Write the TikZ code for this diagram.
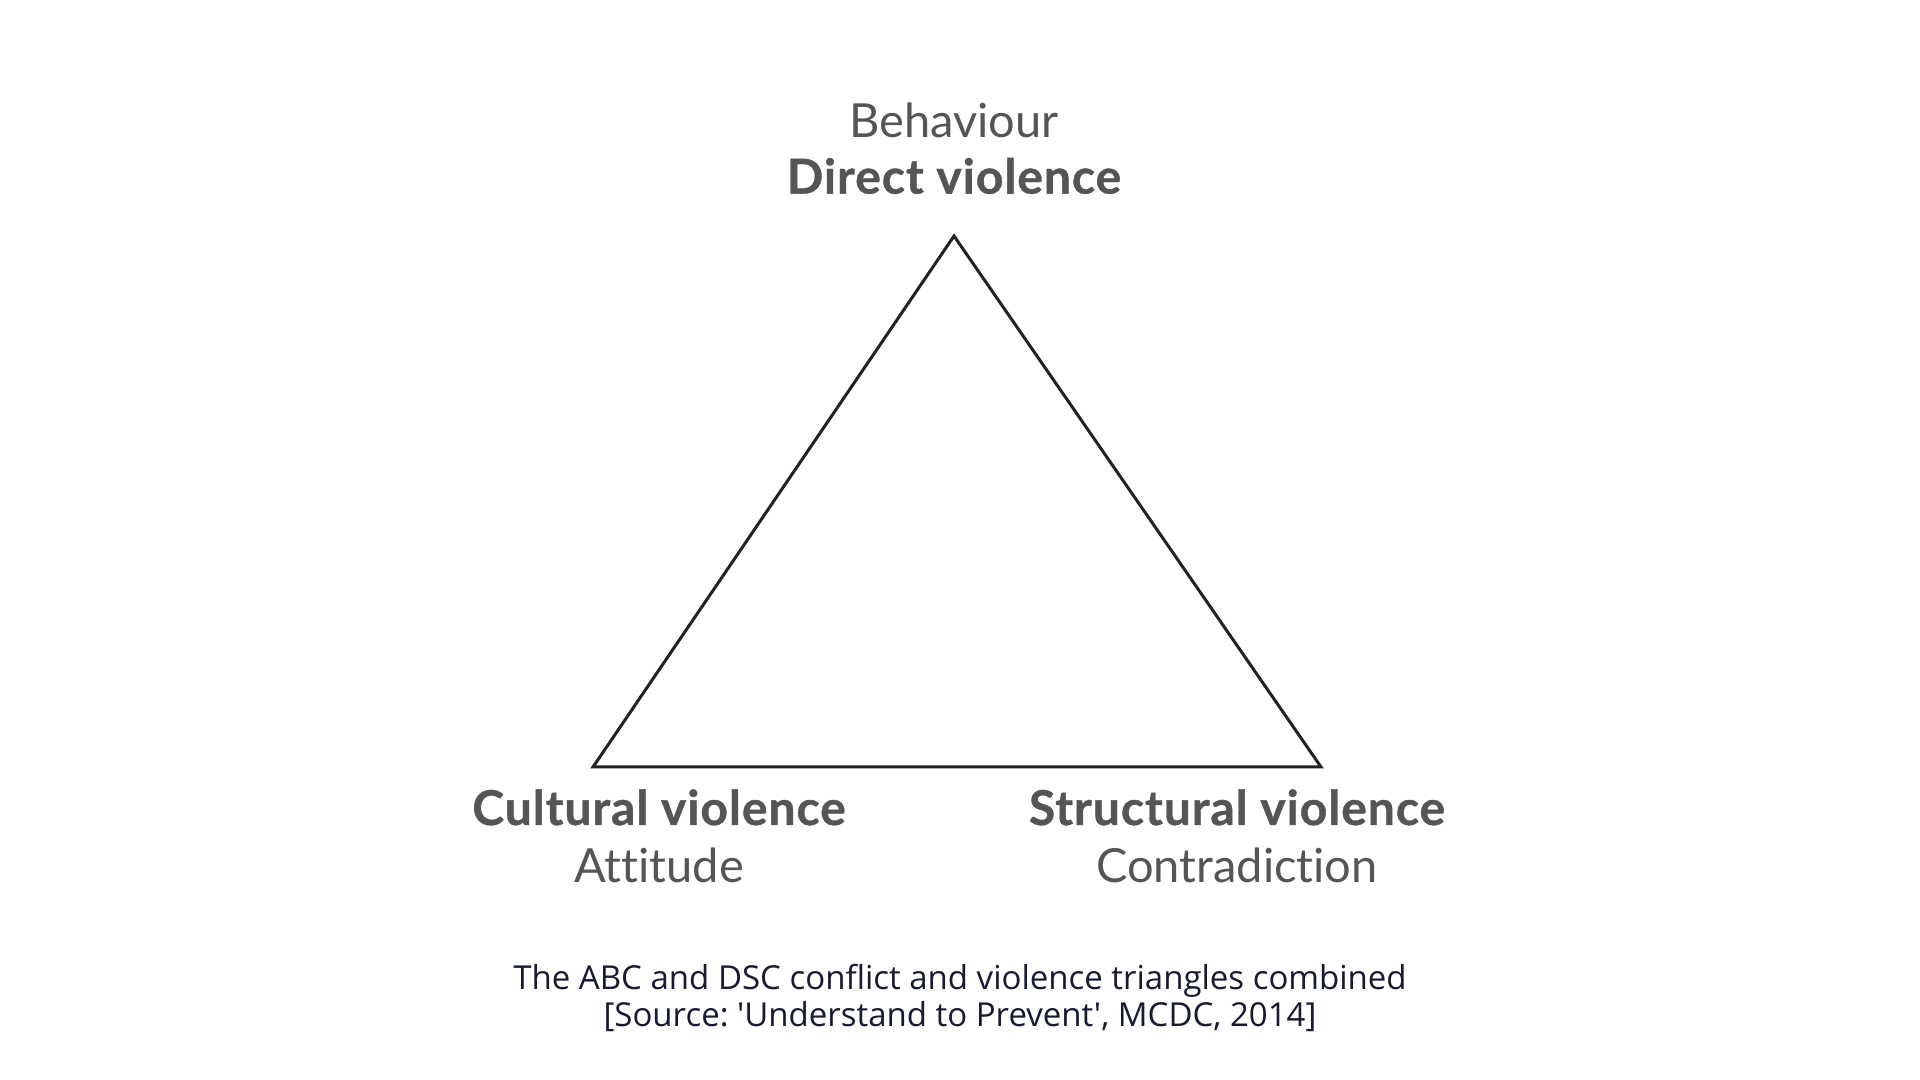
\documentclass[tikz,border=0pt]{standalone}
\usepackage{fontspec}
\setmainfont[Ligatures=NoCommon]{Lato}
\newfontfamily\capfont{Open Sans}
\definecolor{lblgray}{HTML}{555555}
\definecolor{capnavy}{HTML}{161A33}
\definecolor{linedark}{HTML}{222222}
\frenchspacing
\begin{document}
\begin{tikzpicture}[x=1pt,y=1pt,
  lbl/.style={anchor=base,text=lblgray,font=\fontsize{23.5}{27}\selectfont,inner sep=0pt},
  lblb/.style={anchor=base,text=lblgray,font=\bfseries\addfontfeatures{LetterSpace=2,FakeBold=0.8}\fontsize{24}{27}\selectfont,inner sep=0pt},
  captxt/.style={anchor=base,text=capnavy,font=\capfont\fontsize{16.5}{19}\selectfont,inner sep=0pt}]
\fill[white] (0,0) rectangle (960,540);
\useasboundingbox (0,0) rectangle (960,540);
\coordinate (top) at (477,422);
\coordinate (bl) at (296.5,156.5);
\coordinate (br) at (660.5,156.5);
\draw[linedark,line width=1.5pt,line join=miter] (top) -- (br) -- (bl) -- cycle;
\node[lbl] (beh) at (477,471) {Behaviour};
\node[lblb] (dir) at (477,443.2) {Direct violence};
\node[lblb] (cul) at (329.5,127.5) {Cultural violence};
\node[lbl] (att) at (329.5,98.5) {Attitude};
\node[lblb] (str) at (618.5,127.5) {Structural violence};
\node[lbl] (con) at (618.5,98.5) {Contradiction};
\node[captxt] (c1) at (480,45.2) {The ABC and DSC conflict and violence triangles combined};
\node[captxt] (c2) at (480,26.5) {[Source: 'Understand to Prevent', MCDC, 2014]};
\end{tikzpicture}
\end{document}
